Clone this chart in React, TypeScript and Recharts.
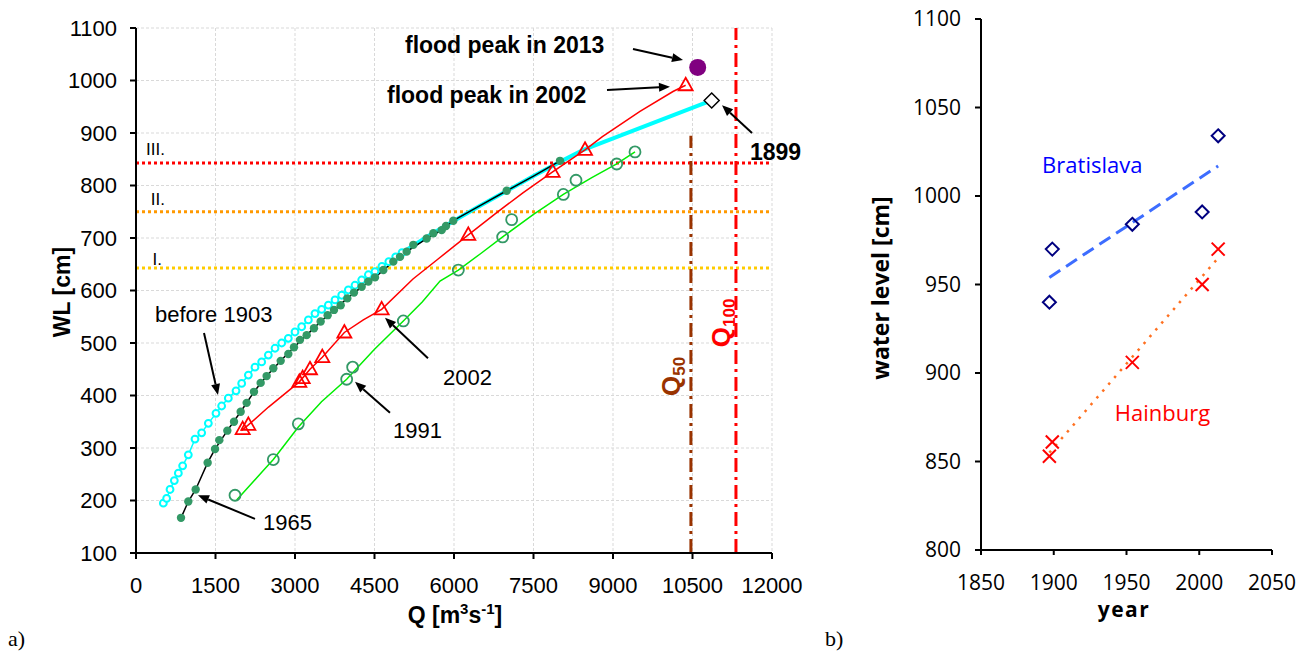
import React from "react";
import { ComposedChart, Line, XAxis, YAxis, CartesianGrid, ReferenceLine, ReferenceDot } from "recharts";

// ---- panel a) rating curves, Q [m3/s] vs WL [cm]
const qTicks = [0, 1500, 3000, 4500, 6000, 7500, 9000, 10500, 12000];
const wlTicks = [100, 200, 300, 400, 500, 600, 700, 800, 900, 1000, 1100];

const before1903Markers: [number, number][] = [
  [516, 195], [578, 204], [642, 221], [723, 238], [799, 252], [880, 266], [987, 287], [1113, 317],
  [1239, 329], [1365, 347], [1509, 366], [1616, 380], [1742, 395], [1887, 409], [1994, 423], [2120, 439],
  [2245, 454], [2371, 464], [2497, 477], [2623, 490], [2749, 500], [2874, 509], [3000, 521], [3126, 531],
  [3252, 544], [3377, 556], [3503, 564], [3629, 572], [3755, 582], [3881, 591], [4006, 601], [4132, 610],
  [4258, 620], [4384, 630], [4509, 636], [4640, 646], [4770, 655], [4900, 664], [5020, 672],
];
const before1903Upper: [number, number][] = [
  [5020, 672], [5500, 703], [6000, 733], [6500, 762], [7000, 790], [7500, 818], [8000, 845], [8440, 868], [10862, 962],
];
const flood1899: [number, number][] = [[10862, 962]];
const flood2013: [number, number][] = [[10598, 1025]];

const y1965Markers: [number, number][] = [
  [849, 167], [987, 198], [1126, 221], [1352, 272], [1491, 298], [1572, 315], [1723, 333], [1849, 350],
  [1975, 369], [2088, 386], [2226, 407], [2352, 424], [2465, 437], [2591, 452], [2730, 466], [2874, 479],
  [2981, 492], [3094, 506], [3220, 515], [3358, 528], [3484, 541], [3616, 553], [3736, 563], [3862, 572],
  [3987, 585], [4113, 596], [4258, 607], [4384, 617], [4509, 625], [4667, 639], [4855, 655], [4981, 664],
  [5107, 674], [5233, 687], [5484, 699], [5610, 709], [5767, 715], [5849, 723], [5987, 733], [6994, 790], [8000, 847],
];
const y1965Curve: [number, number][] = [
  [849, 167], [987, 198], [1126, 221], [1352, 272], [1491, 298], [1723, 333], [1975, 369], [2226, 407],
  [2465, 437], [2730, 466], [2981, 492], [3220, 515], [3484, 541], [3736, 563], [3987, 585], [4258, 607],
  [4509, 625], [4855, 655], [5107, 674], [5484, 699], [5767, 715], [5987, 733], [6500, 762], [6994, 790],
  [7500, 818], [8000, 847],
];

const y2002Markers: [number, number][] = [
  [2013, 336], [2120, 344], [3082, 426], [3145, 433], [3283, 450], [3515, 473], [3931, 520], [4635, 564],
  [6270, 706], [7861, 826], [8472, 868], [10371, 991],
];
const y2002Curve: [number, number][] = [
  [1990, 333], [2120, 344], [2500, 378], [3082, 426], [3283, 450], [3515, 473], [3931, 520], [4289, 544],
  [4635, 564], [5226, 622], [5700, 660], [6270, 706], [6800, 748], [7300, 786], [7861, 826], [8472, 868],
  [8800, 893], [9509, 941], [10132, 979], [10371, 991],
];

const y1991Markers: [number, number][] = [
  [1868, 210], [2591, 278], [3063, 346], [3975, 431], [4088, 454], [5044, 542], [6082, 639], [6918, 702],
  [7088, 735], [8063, 783], [8302, 810], [9070, 841], [9415, 864],
];
const y1991Curve: [number, number][] = [
  [1899, 201], [2402, 257], [2591, 278], [3063, 340], [3500, 388], [3975, 431], [4500, 488], [5044, 542],
  [5400, 578], [5736, 618], [6082, 639], [6500, 670], [6918, 702], [7500, 745], [8063, 783], [8600, 815],
  [9070, 841], [9415, 864],
];

const floodLevels = { I: 643, II: 750, III: 843 };
const q50 = 10470;
const q100 = 11320;

// ---- panel b) peak water levels by year
const yearTicks = [1850, 1900, 1950, 2000, 2050];
const levelTicks = [800, 850, 900, 950, 1000, 1050, 1100];
const bratislava: [number, number][] = [[1897, 940], [1899, 970], [1954, 984], [2002, 991], [2013, 1034]];
const bratislavaTrend: [number, number][] = [[1897, 954], [2013, 1017]];
const hainburg: [number, number][] = [[1897, 853], [1899, 861], [1954, 906], [2002, 950], [2013, 970]];
const hainburgTrend: [number, number][] = [[1897, 855], [2013, 965]];

const pts = (a: [number, number][]) => a.map(([x, y]) => ({ x, y }));

const ARIAL = "'Liberation Sans', Arial, sans-serif";
const NARROW = "'Liberation Sans Narrow', 'Arial Narrow', 'Liberation Sans', sans-serif";
const CAL = "'Open Sans', 'Noto Sans', sans-serif";

// text notes and arrows for panel a)
const notesA = [
  { x: 5075, y: 1053, t: "flood peak in 2013", bold: true },
  { x: 4736, y: 957, t: "flood peak in 2002", bold: true },
  { x: 11585, y: 849, t: "1899", bold: true },
  { x: 358, y: 540, t: "before 1903" },
  { x: 5792, y: 420, t: "2002" },
  { x: 4849, y: 319, t: "1991" },
  { x: 2396, y: 144, t: "1965" },
];
const arrowsA = [
  [9377, 1060, 10321, 1039],
  [8887, 982, 10075, 988],
  [11623, 900, 11057, 953],
  [1283, 519, 1547, 401],
  [5509, 471, 4698, 548],
  [4792, 367, 4132, 426],
  [2245, 165, 1170, 210],
];

const Arrow = (p: any) => {
  const { x1, y1, x2, y2 } = p;
  const a = Math.atan2(y2 - y1, x2 - x1);
  const L = 11, W = 4.5;
  const bx = x2 - L * Math.cos(a), by = y2 - L * Math.sin(a);
  const s = Math.sin(a), c = Math.cos(a);
  return (
    <g>
      <line x1={x1} y1={y1} x2={bx} y2={by} stroke="#000" strokeWidth={2} />
      <polygon points={`${x2},${y2} ${bx + W * s},${by - W * c} ${bx - W * s},${by + W * c}`} fill="#000" />
    </g>
  );
};

const cyanDot = (p: any) => <circle key={p.index} cx={p.cx} cy={p.cy} r={3.4} fill="#fff" stroke="#00ffff" strokeWidth={2} />;
const greenDot = (p: any) => <circle key={p.index} cx={p.cx} cy={p.cy} r={4.2} fill="#339966" />;
const triDot = (p: any) => (
  <polygon key={p.index} points={`${p.cx},${p.cy - 7.5} ${p.cx + 7},${p.cy + 5} ${p.cx - 7},${p.cy + 5}`} fill="none" stroke="#ff0000" strokeWidth={1.8} />
);
const ringDot = (p: any) => <circle key={p.index} cx={p.cx} cy={p.cy} r={5.5} fill="none" stroke="#339966" strokeWidth={1.8} />;
const purpleDot = (p: any) => <circle key={p.index} cx={p.cx} cy={p.cy} r={8.5} fill="#800080" />;
const whiteDiamond = (p: any) => (
  <polygon key={p.index} points={`${p.cx},${p.cy - 7.5} ${p.cx + 7.5},${p.cy} ${p.cx},${p.cy + 7.5} ${p.cx - 7.5},${p.cy}`} fill="#fff" stroke="#000" strokeWidth={1.5} />
);
const navyDiamond = (p: any) => (
  <polygon key={p.index} points={`${p.cx},${p.cy - 6.5} ${p.cx + 6.5},${p.cy} ${p.cx},${p.cy + 6.5} ${p.cx - 6.5},${p.cy}`} fill="none" stroke="#000080" strokeWidth={2} />
);
const redCross = (p: any) => (
  <g key={p.index}>
    <line x1={p.cx - 6.5} y1={p.cy - 6.5} x2={p.cx + 6.5} y2={p.cy + 6.5} stroke="#ff0000" strokeWidth={2} />
    <line x1={p.cx - 6.5} y1={p.cy + 6.5} x2={p.cx + 6.5} y2={p.cy - 6.5} stroke="#ff0000" strokeWidth={2} />
  </g>
);

const levelLabel = (t: string) => (p: any) => (
  <text x={p.cx} y={p.cy} textAnchor="end" fontFamily={NARROW} fontSize={17} fill="#000">{t}</text>
);

const qLabel = (sub: string, color: string) => (p: any) => (
  <text x={p.cx} y={p.cy} transform={`rotate(-90 ${p.cx} ${p.cy})`} fontFamily={ARIAL} fontWeight="bold" fontSize={26} fill={color}>
    Q<tspan fontSize={17} dy={5}>{sub}</tspan>
  </text>
);

const noteShape = (t: string, bold?: boolean, color = "#000", family = ARIAL, size?: number) => (p: any) => (
  <text x={p.cx} y={p.cy} fontFamily={family} fontWeight={bold ? "bold" : "normal"} fontSize={size ?? (bold ? 23 : 22)} fill={color}>{t}</text>
);

const axisStyle = { stroke: "#000", strokeWidth: 2 };

function PanelA() {
  return (
    <ComposedChart width={830} height={653} margin={{ top: 28, right: 58, left: 76, bottom: 70 }}>
      <CartesianGrid stroke="#d9d9d9" strokeDasharray="3 2" />
      <XAxis type="number" dataKey="x" domain={[0, 12000]} ticks={qTicks} interval={0} allowDataOverflow height={30}
        tick={{ fontSize: 22, fill: "#000", fontFamily: ARIAL }} tickSize={6} tickMargin={18} axisLine={axisStyle} tickLine={axisStyle} />
      <YAxis type="number" dataKey="y" domain={[100, 1100]} ticks={wlTicks} interval={0} allowDataOverflow width={60}
        tick={{ fontSize: 22, fill: "#000", fontFamily: ARIAL }} tickSize={6} tickMargin={13} axisLine={axisStyle} tickLine={axisStyle} />

      <ReferenceLine y={floodLevels.III} stroke="#ff0000" strokeWidth={3} strokeDasharray="3 3" />
      <ReferenceLine y={floodLevels.II} stroke="#ff9900" strokeWidth={3} strokeDasharray="3 3" />
      <ReferenceLine y={floodLevels.I} stroke="#ffcc00" strokeWidth={3} strokeDasharray="3 3" />
      <ReferenceLine segment={[{ x: q50, y: 100 }, { x: q50, y: 895 }]} stroke="#993300" strokeWidth={3} strokeDasharray="14 5 3 5" />
      <ReferenceLine x={q100} stroke="#ff0000" strokeWidth={3} strokeDasharray="14 5 3 5" />

      <Line data={pts(before1903Markers)} dataKey="y" stroke="#00ffff" strokeWidth={1.5} dot={cyanDot} activeDot={false} isAnimationActive={false} />
      <Line data={pts(before1903Upper)} dataKey="y" stroke="#00ffff" strokeWidth={4} dot={false} activeDot={false} isAnimationActive={false} />
      <Line data={pts(y1965Curve)} dataKey="y" stroke="#000" strokeWidth={1.5} dot={false} activeDot={false} isAnimationActive={false} />
      <Line data={pts(y1965Markers)} dataKey="y" stroke="none" dot={greenDot} activeDot={false} isAnimationActive={false} />
      <Line data={pts(y2002Curve)} dataKey="y" stroke="#ff0000" strokeWidth={1.5} dot={false} activeDot={false} isAnimationActive={false} />
      <Line data={pts(y2002Markers)} dataKey="y" stroke="none" dot={triDot} activeDot={false} isAnimationActive={false} />
      <Line data={pts(y1991Curve)} dataKey="y" stroke="#00ee00" strokeWidth={1.5} dot={false} activeDot={false} isAnimationActive={false} />
      <Line data={pts(y1991Markers)} dataKey="y" stroke="none" dot={ringDot} activeDot={false} isAnimationActive={false} />
      <Line data={pts(flood1899)} dataKey="y" stroke="none" dot={whiteDiamond} activeDot={false} isAnimationActive={false} />
      <Line data={pts(flood2013)} dataKey="y" stroke="none" dot={purpleDot} activeDot={false} isAnimationActive={false} />

      {arrowsA.map(([a, b, c, d], i) => (
        <ReferenceLine key={"ar" + i} segment={[{ x: a, y: b }, { x: c, y: d }]} shape={Arrow} />
      ))}
      {notesA.map((n, i) => (
        <ReferenceDot key={"n" + i} x={n.x} y={n.y} r={1} shape={noteShape(n.t, n.bold)} />
      ))}
      <ReferenceDot x={547} y={858} r={1} shape={levelLabel("III.")} />
      <ReferenceDot x={547} y={763} r={1} shape={levelLabel("II.")} />
      <ReferenceDot x={490} y={649} r={1} shape={levelLabel("I.")} />
      <ReferenceDot x={10264} y={399} r={1} shape={qLabel("50", "#993300")} />
      <ReferenceDot x={11208} y={492} r={1} shape={qLabel("100", "#ff0000")} />
    </ComposedChart>
  );
}

function PanelB() {
  return (
    <ComposedChart width={470} height={653} margin={{ top: 19, right: 38, left: 80, bottom: 73 }}>
      <XAxis type="number" dataKey="x" domain={[1850, 2050]} ticks={yearTicks} interval={0} allowDataOverflow height={30}
        tick={{ fontSize: 21, fill: "#000", fontFamily: CAL }} tickSize={5} tickMargin={20} axisLine={axisStyle} tickLine={axisStyle} />
      <YAxis type="number" dataKey="y" domain={[800, 1100]} ticks={levelTicks} interval={0} allowDataOverflow width={61}
        tick={{ fontSize: 21, fill: "#000", fontFamily: CAL }} tickSize={6} tickMargin={14} axisLine={axisStyle} tickLine={axisStyle} />
      <Line data={pts(bratislavaTrend)} dataKey="y" stroke="#3d6dff" strokeWidth={3} strokeDasharray="13 7" dot={false} activeDot={false} isAnimationActive={false} />
      <Line data={pts(hainburgTrend)} dataKey="y" stroke="#ff7020" strokeWidth={2.5} strokeDasharray="2.5 6.5" dot={false} activeDot={false} isAnimationActive={false} />
      <Line data={pts(bratislava)} dataKey="y" stroke="none" dot={navyDiamond} activeDot={false} isAnimationActive={false} />
      <Line data={pts(hainburg)} dataKey="y" stroke="none" dot={redCross} activeDot={false} isAnimationActive={false} />
      <ReferenceDot x={1892} y={1013} r={1} shape={noteShape("Bratislava", false, "#0000ff", CAL, 22)} />
      <ReferenceDot x={1942} y={873} r={1} shape={noteShape("Hainburg", false, "#ff0000", CAL, 22)} />
    </ComposedChart>
  );
}

export default function App() {
  return (
    <div style={{ position: "absolute", left: 0, top: 0, width: 1310, height: 653, background: "#fff" }}>
      <div style={{ position: "absolute", left: 0, top: 0 }}>
        <PanelA />
      </div>
      <div style={{ position: "absolute", left: 840, top: 0 }}>
        <PanelB />
      </div>
      <svg width={1310} height={653} style={{ position: "absolute", left: 0, top: 0, pointerEvents: "none" }}>
        <text x={70} y={292} transform="rotate(-90 70 292)" textAnchor="middle" fontFamily={ARIAL} fontWeight="bold" fontSize={23}>WL [cm]</text>
        <text x={455} y={623} textAnchor="middle" fontFamily={ARIAL} fontWeight="bold" fontSize={23}>
          Q [m<tspan fontSize={15} dy={-9}>3</tspan><tspan dy={9}>s</tspan><tspan fontSize={15} dy={-9}>-1</tspan><tspan dy={9}>]</tspan>
        </text>
        <text x={8} y={646} fontFamily="'Liberation Serif', 'Times New Roman', serif" fontSize={22}>a)</text>
        <text x={825} y={646} fontFamily="'Liberation Serif', 'Times New Roman', serif" fontSize={22}>b)</text>
        <text x={889} y={288} transform="rotate(-90 889 288)" textAnchor="middle" fontFamily={CAL} fontWeight="bold" fontSize={23}>water level [cm]</text>
        <text x={1124} y={617} textAnchor="middle" fontFamily={CAL} fontWeight="bold" fontSize={21} letterSpacing={1.5}>year</text>
      </svg>
    </div>
  );
}
